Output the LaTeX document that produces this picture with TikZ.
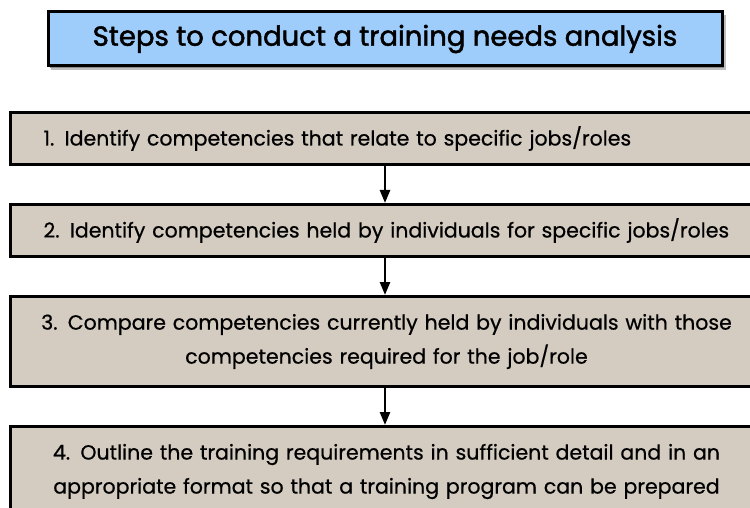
\documentclass[tikz,border=0pt]{standalone}
\usepackage{fontspec}
\setmainfont{Poppins}[FakeBold=0.6]
\newfontfamily\titlefont{Poppins}[FakeBold=1.8]
\usetikzlibrary{arrows.meta}
\definecolor{titleblue}{HTML}{9ECCFB}
\definecolor{stepfill}{HTML}{D5CCC1}
\tikzset{
  titlebox/.style={draw=black, line width=3pt, fill=titleblue, minimum width=674pt, minimum height=54pt, inner sep=0pt, font=\titlefont\fontsize{27.5}{30}\selectfont},
  stepbox/.style={draw=black, line width=3pt, fill=stepfill, anchor=north west, inner ysep=0pt, font=\fontsize{20.5}{34}\selectfont},
  leftstep/.style={stepbox, text width=730pt, inner xsep=33pt, align=left},
  midstep/.style={stepbox, text width=712pt, inner xsep=20pt, align=center},
  arr/.style={line width=2.5pt, -{Triangle[length=13pt, width=10pt]}}
}
\begin{document}
\begin{tikzpicture}[x=1pt, y=-1pt]
\path[use as bounding box] (0,0) rectangle (750,508);
\fill[white] (0,0) rectangle (750,508);
\clip (0,0) rectangle (750,508);
\fill[black!25] (51,15) rectangle (726,70);
\fill[black!45] (50,14) rectangle (724,68);
\node[titlebox] (title) at (385,39) {Steps to conduct a training needs analysis};
\node[leftstep, minimum height=52pt] (s1) at (9,111) {1. Identify competencies that relate to specific jobs/roles};
\node[leftstep, minimum height=52pt] (s2) at (9,203) {2. Identify competencies held by individuals for specific jobs/roles};
\node[midstep, minimum height=90pt] (s3) at (9,295) {3. Compare competencies currently held by individuals with those\\competencies required for the job/role};
\node[midstep, minimum height=90pt] (s4) at (9,425) {4. Outline the training requirements in sufficient detail and in an\\appropriate format so that a training program can be prepared};
\draw[arr] (s1.south -| title.south) -- (s2.north -| title.south);
\draw[arr] (s2.south -| title.south) -- (s3.north -| title.south);
\draw[arr] (s3.south -| title.south) -- (s4.north -| title.south);
\end{tikzpicture}
\end{document}
